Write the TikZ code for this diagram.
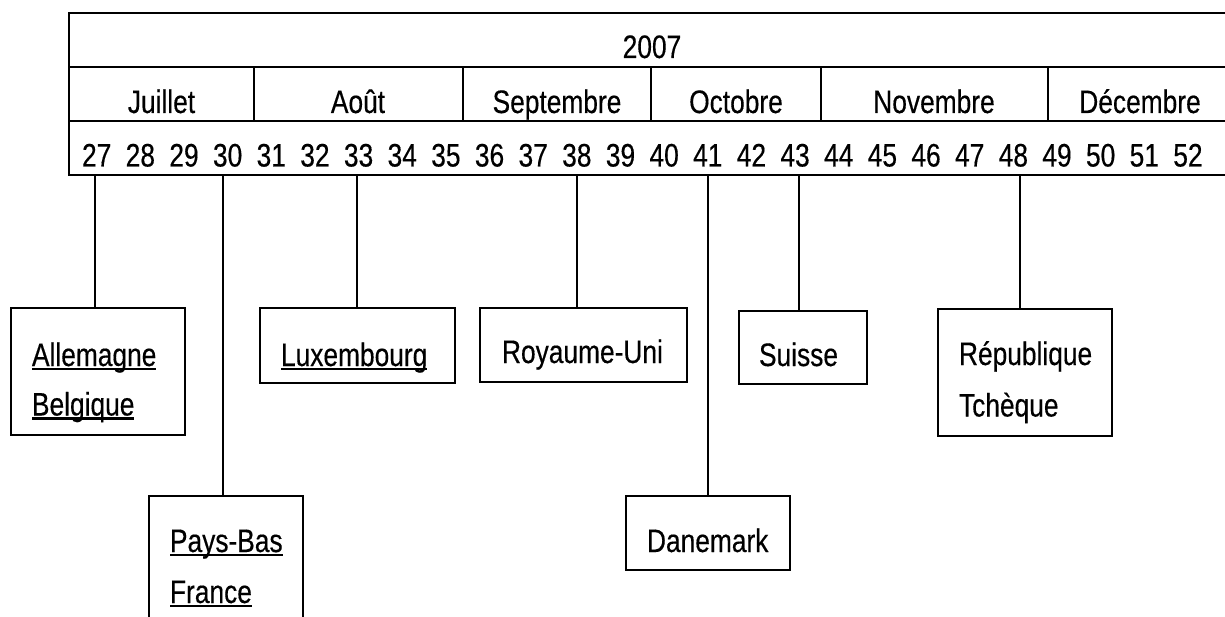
\documentclass[tikz,border=0pt]{standalone}
\usepackage{fontspec}
\setmainfont{Liberation Sans}[FakeStretch=0.81, FakeBold=0.35]
\newsavebox\ulbox
\newcommand\ulx[1]{\sbox\ulbox{#1}\rlap{\rule[-4pt]{\wd\ulbox}{2.4pt}}\usebox\ulbox}
\tikzset{
  tbl/.style={line width=1.4pt, line cap=rect},
  cbox/.style={draw, line width=1.2pt, inner sep=0pt, outer sep=0pt, anchor=north west},
  conn/.style={line width=1.2pt},
  txt/.style={inner sep=0pt, outer sep=0pt, font=\fontsize{32.5}{38}\selectfont},
}
\begin{document}
\begin{tikzpicture}[x=1pt, y=-1pt]
\clip (0,0) rectangle (1225,617);
\fill[white] (0,0) rectangle (1225,617);
% table
\draw[tbl] (1240,13) -- (69,13) -- (69,175) -- (1240,175);
\draw[tbl] (69,67) -- (1240,67);
\draw[tbl] (69,121) -- (1240,121);
\foreach \x in {254,463,651,821,1048} \draw[tbl] (\x,67) -- (\x,121);
\node[txt, anchor=base] (y2007) at (652,58) {2007};
\node[txt, anchor=base] (mjul) at (161.5,113) {Juillet};
\node[txt, anchor=base] (maou) at (358,113) {Août};
\node[txt, anchor=base] (msep) at (557,113) {Septembre};
\node[txt, anchor=base] (moct) at (736,113) {Octobre};
\node[txt, anchor=base] (mnov) at (934,113) {Novembre};
\node[txt, anchor=base] (mdec) at (1140,113) {Décembre};
\foreach \n in {27,...,52} {
  \node[txt, anchor=base] (w\n) at ({96.7+43.65*(\n-27)},166.5) {\n};
}
% connector tops on the table bottom
\coordinate (t27) at (95,175);
\coordinate (t30) at (223,175);
\coordinate (t33) at (357,175);
\coordinate (t38) at (577,175);
\coordinate (t41) at (708,175);
\coordinate (t43) at (799,175);
\coordinate (t48) at (1020,175);
% boxes
\node[cbox, minimum width=174pt, minimum height=127pt] (ab) at (11,308) {};
\node[cbox, minimum width=154pt, minimum height=160pt] (pf) at (149,496) {};
\node[cbox, minimum width=195pt, minimum height=75pt] (lu) at (260,308) {};
\node[cbox, minimum width=207pt, minimum height=74pt] (ru) at (480,308) {};
\node[cbox, minimum width=128pt, minimum height=73pt] (ch) at (739,311) {};
\node[cbox, minimum width=164pt, minimum height=74pt] (dk) at (626,496) {};
\node[cbox, minimum width=174pt, minimum height=127pt] (cz) at (938,309) {};
% texts
\node[txt, anchor=base west] (tab1) at (32,366) {\ulx{Allemagne}};
\node[txt, anchor=base west] (tab2) at (32,415.5) {\ulx{Belgique}};
\node[txt, anchor=base west] (tpf1) at (170,552) {\ulx{Pays-Bas}};
\node[txt, anchor=base west] (tpf2) at (170,603) {\ulx{France}};
\node[txt, anchor=base west] (tlu) at (281,366) {\ulx{Luxembourg}};
\node[txt, anchor=base west] (tru) at (502,363) {Royaume-Uni};
\node[txt, anchor=base west] (tch) at (759,366) {Suisse};
\node[txt, anchor=base west] (tdk) at (647,552) {Danemark};
\node[txt, anchor=base west] (tcz1) at (959,365) {République};
\node[txt, anchor=base west] (tcz2) at (959,416.5) {Tchèque};
% connectors
\draw[conn] (t27) -- (ab.north -| t27);
\draw[conn] (t30) -- (pf.north -| t30);
\draw[conn] (t33) -- (lu.north -| t33);
\draw[conn] (t38) -- (ru.north -| t38);
\draw[conn] (t41) -- (dk.north -| t41);
\draw[conn] (t43) -- (ch.north -| t43);
\draw[conn] (t48) -- (cz.north -| t48);
\end{tikzpicture}
\end{document}
